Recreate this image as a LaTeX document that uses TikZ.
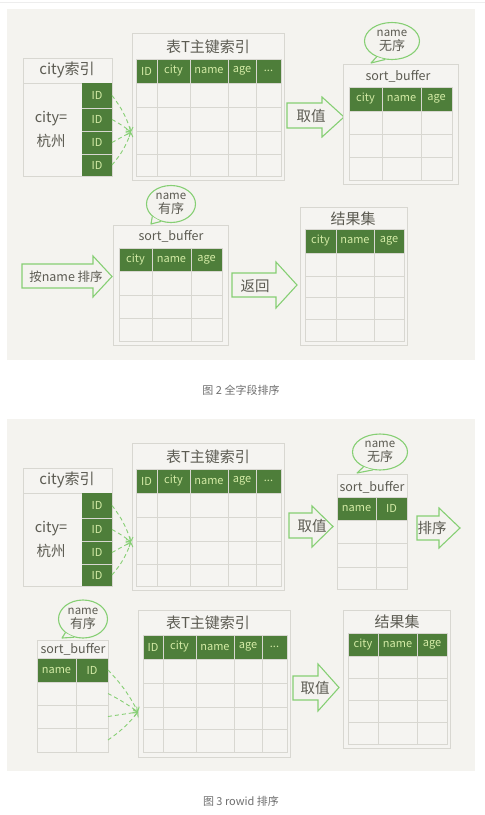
\documentclass[tikz,border=0pt]{standalone}
\usepackage{fontspec}
\setmainfont{Noto Sans CJK SC}
\usetikzlibrary{arrows.meta,shapes.geometric,calc}
\definecolor{bg}{HTML}{F4F3EF}
\definecolor{boxfill}{HTML}{F5F4F1}
\definecolor{hdr}{HTML}{4E7E3A}
\definecolor{hdrtxt}{HTML}{D4EBA6}
\definecolor{gridc}{HTML}{D8D7D1}
\definecolor{ink}{HTML}{5C5B52}
\definecolor{grn}{HTML}{86CF74}
\definecolor{capc}{HTML}{6F6F6F}
\definecolor{topline}{HTML}{EDEDED}
\tikzset{
 obox/.style={draw=gridc, line width=1pt, fill=boxfill, inner sep=0pt, outer sep=0pt},
 gl/.style={draw=gridc, line width=0.9pt},
 hcellst/.style={fill=hdr, inner sep=0pt, outer sep=0pt, text=hdrtxt, font=\fontsize{11}{12}\selectfont},
 ecellst/.style={inner sep=0pt, outer sep=0pt},
 ttl/.style={text=ink, font=\fontsize{15}{16}\selectfont, inner sep=0pt},
 sbt/.style={text=ink, font=\fontsize{12.5}{13}\selectfont, inner sep=0pt},
 bigarrow/.style={draw=grn, line width=1.1pt, fill=bg, line join=miter},
 alab/.style={text=ink, font=\fontsize{14.5}{15}\selectfont, inner sep=0pt},
 bub/.style={ellipse, draw=grn, line width=1.1pt, fill=bg, inner sep=0pt, text=ink, align=center, font=\fontsize{11.5}{14}\selectfont},
 tail/.style={draw=grn, line width=1.1pt, line join=round},
 dconn/.style={draw=grn, line width=0.9pt, dash pattern=on 4pt off 3pt, -{Straight Barb[length=3.5pt,width=7pt]}},
 captxt/.style={text=capc, font=\fontsize{11}{12}\selectfont, inner sep=0pt},
 lefttxt/.style={text=ink, font=\fontsize{14.5}{24}\selectfont, align=center, inner sep=0pt},
}
% outer box node: name, x1, y1, x2, y2
\newcommand\obx[5]{\node[obox, minimum width={(#4-#2)*1pt}, minimum height={(#5-#3)*1pt}] (#1) at ({(#2+#4)/2},{(#3+#5)/2}) {};}
% header cell node: name, x1, y1, x2, y2, text
\newcommand\hcell[6]{\node[hcellst, minimum width={(#4-#2)*1pt}, minimum height={(#5-#3)*1pt}] (#1) at ({(#2+#4)/2},{(#3+#5)/2}) {#6};}
% empty cell node
\newcommand\ecell[5]{\node[ecellst, minimum width={(#4-#2)*1pt}, minimum height={(#5-#3)*1pt}] (#1) at ({(#2+#4)/2},{(#3+#5)/2}) {};}
% grid: x1, y1, x2, y2, inner cols, inner rows
\newcommand\tgrid[6]{\draw[gl] (#1,#2) rectangle (#3,#4);
 \foreach \c in {#5} {\draw[gl] (\c,#2) -- (\c,#4);}
 \foreach \r in {#6} {\draw[gl] (#1,\r) -- (#3,\r);}}
% big hollow arrow: bx1, by1, bx2, by2, hy1, hy2, tipx
\newcommand\bigarr[7]{\draw[bigarrow] (#1,#2) -- (#3,#2) -- (#3,#5) -- (#7,{(#5+#6)/2}) -- (#3,#6) -- (#3,#4) -- (#1,#4) -- cycle;}
\newcommand\bubtxt[1]{{\fontsize{11.5}{12}\selectfont name}\\{\fontsize{13}{14}\selectfont #1}}
\begin{document}
\begin{tikzpicture}[x=1pt,y=-1pt]
\fill[white] (0,0) rectangle (485,815);
\useasboundingbox (0,0) rectangle (485,815);
\draw[topline, line width=1pt] (0,2) -- (485,2);
% panels
\fill[bg] (7,9) rectangle (475,360);
\fill[bg] (7,419) rectangle (475,771);

% ================= PANEL 1 =================
% city index
\obx{ci}{23}{58}{112}{176}
\draw[gl] (23,83) -- (112,83);
\node[ttl] (citl) at (67,70) {city索引};
\node[lefttxt] (cieq) at (51,130) {city=\\杭州};
\hcell{ci1}{82}{83}{112}{108}{ID}
\hcell{ci2}{82}{108}{112}{131}{ID}
\hcell{ci3}{82}{131}{112}{154}{ID}
\hcell{ci4}{82}{154}{112}{176}{ID}
\draw[gl] (82,108) -- (112,108) (82,131) -- (112,131) (82,154) -- (112,154);
% primary key table
\obx{pk}{132}{33}{284}{180}
\node[ttl] (pktl) at (208,47) {表T主键索引};
\hcell{pk1}{136}{59}{157}{83}{ID}
\hcell{pk2}{157}{59}{190}{83}{city}
\hcell{pk3}{190}{59}{228}{83}{name}
\hcell{pk4}{228}{59}{256}{83}{age}
\hcell{pk5}{256}{59}{281}{83}{...}
\tgrid{136}{59}{281}{176}{157,190,228,256}{83,107,131,154}
\coordinate (t1) at (131,132);
\draw[dconn] (ci1.east) to[bend left=10] (t1);
\draw[dconn] (ci2.east) to[bend left=5] (t1);
\draw[dconn] (ci3.east) to (t1);
\draw[dconn] (ci4.east) to[bend right=10] (t1);
% arrow 取值
\bigarr{287}{103}{322}{128}{97}{137}{344}
\node[alab] (a1) at (311,116) {取值};
% sort_buffer top right
\obx{sb}{343}{64}{458}{184}
\node[sbt] (sbtl) at (398,76) {sort\_buffer};
\hcell{sb1}{349}{87}{382}{111}{city}
\hcell{sb2}{382}{87}{421}{111}{name}
\hcell{sb3}{421}{87}{452}{111}{age}
\tgrid{349}{87}{452}{180}{382,421}{111,134,157}
\node[bub, minimum width=55pt, minimum height=37pt] (b1) at (392,41) {\bubtxt{无序}};
\coordinate (b1t) at (371,63);
\fill[bg] (b1.226) -- (b1t) -- (b1.250) -- cycle;
\draw[tail] (b1.226) -- (b1t) -- (b1.250);

% sort_buffer middle
\obx{sbm}{113}{225}{228}{345}
\node[sbt] (sbmtl) at (171,236) {sort\_buffer};
\hcell{sbm1}{119}{248}{152}{271}{city}
\hcell{sbm2}{152}{248}{191}{271}{name}
\hcell{sbm3}{191}{248}{222}{271}{age}
\tgrid{119}{248}{222}{341}{152,191}{271,295,318}
\node[bub, minimum width=49pt, minimum height=37pt] (b2) at (171,204) {\bubtxt{有序}};
\coordinate (b2t) at (151,224);
\fill[bg] (b2.214) -- (b2t) -- (b2.240) -- cycle;
\draw[tail] (b2.214) -- (b2t) -- (b2.240);
% arrow 按name 排序
\bigarr{22}{264}{93}{288}{256}{297}{112}
\node[alab, font=\fontsize{12.5}{13}\selectfont] (a2) at (66,277) {按name 排序};
% arrow 返回
\bigarr{232}{273}{276}{297}{262}{308}{297}
\node[alab] (a3) at (255,286) {返回};
% result set
\obx{rs}{300}{207}{407}{345}
\node[ttl] (rstl) at (353,219) {结果集};
\hcell{rs1}{305}{229}{336}{253}{city}
\hcell{rs2}{336}{229}{374}{253}{name}
\hcell{rs3}{374}{229}{404}{253}{age}
\tgrid{305}{229}{404}{341}{336,374}{253,276,297,319}
\node[captxt] (cap1) at (241,390) {图 2 全字段排序};

% ================= PANEL 2 =================
\obx{di}{23}{468}{112}{586}
\draw[gl] (23,493) -- (112,493);
\node[ttl] (ditl) at (67,480) {city索引};
\node[lefttxt] (dieq) at (51,540) {city=\\杭州};
\hcell{di1}{82}{493}{112}{518}{ID}
\hcell{di2}{82}{518}{112}{541}{ID}
\hcell{di3}{82}{541}{112}{564}{ID}
\hcell{di4}{82}{564}{112}{586}{ID}
\draw[gl] (82,518) -- (112,518) (82,541) -- (112,541) (82,564) -- (112,564);
\obx{pkb}{132}{443}{284}{590}
\node[ttl] (pkbtl) at (208,457) {表T主键索引};
\hcell{pkb1}{136}{469}{157}{493}{ID}
\hcell{pkb2}{157}{469}{190}{493}{city}
\hcell{pkb3}{190}{469}{228}{493}{name}
\hcell{pkb4}{228}{469}{256}{493}{age}
\hcell{pkb5}{256}{469}{281}{493}{...}
\tgrid{136}{469}{281}{586}{157,190,228,256}{493,517,541,564}
\coordinate (t2) at (131,542);
\draw[dconn] (di1.east) to[bend left=10] (t2);
\draw[dconn] (di2.east) to[bend left=5] (t2);
\draw[dconn] (di3.east) to (t2);
\draw[dconn] (di4.east) to[bend right=10] (t2);
\bigarr{289}{513}{312}{538}{506}{547}{333}
\node[alab] (a4) at (312,526) {取值};
\obx{sbb}{337}{474}{407}{589}
\node[sbt] (sbbtl) at (372,487) {sort\_buffer};
\hcell{sbb1}{337}{497}{376}{520}{name}
\hcell{sbb2}{376}{497}{407}{520}{ID}
\tgrid{337}{497}{407}{589}{376}{520,543,567}
\node[bub, minimum width=55pt, minimum height=36pt] (b3) at (380,452) {\bubtxt{无序}};
\coordinate (b3t) at (357,473);
\fill[bg] (b3.222) -- (b3t) -- (b3.248) -- cycle;
\draw[tail] (b3.222) -- (b3t) -- (b3.248);
\bigarr{417}{516}{439}{540}{508}{548}{460}
\node[alab] (a5) at (432,528) {排序};

% bottom left sort_buffer
\obx{sbc}{37}{640}{108}{752}
\node[sbt] (sbctl) at (73,649) {sort\_buffer};
\hcell{sbc1}{37}{658}{76}{682}{name}
\hcell{sbc2}{76}{658}{108}{682}{ID}
\ecell{sbr1}{76}{682}{108}{705}
\ecell{sbr2}{76}{705}{108}{728}
\ecell{sbr3}{76}{728}{108}{752}
\tgrid{37}{658}{108}{752}{76}{682,705,728}
\node[bub, minimum width=49pt, minimum height=38pt] (b4) at (83,619) {\bubtxt{有序}};
\coordinate (b4t) at (62,638);
\fill[bg] (b4.218) -- (b4t) -- (b4.244) -- cycle;
\draw[tail] (b4.218) -- (b4t) -- (b4.244);
\obx{pkc}{138}{610}{290}{757}
\node[ttl] (pkctl) at (208,623) {表T主键索引};
\hcell{pkc1}{143}{635}{163}{659}{ID}
\hcell{pkc2}{163}{635}{196}{659}{city}
\hcell{pkc3}{196}{635}{234}{659}{name}
\hcell{pkc4}{234}{635}{262}{659}{age}
\hcell{pkc5}{262}{635}{287}{659}{...}
\tgrid{143}{635}{287}{752}{163,196,234,262}{659,683,707,729}
\coordinate (t3) at (138,712);
\draw[dconn] (sbc2.east) to[bend left=8] (t3);
\draw[dconn] (sbr1.east) to[bend left=4] (t3);
\draw[dconn] (sbr2.east) to (t3);
\draw[dconn] (sbr3.east) to[bend right=8] (t3);
\bigarr{293}{676}{318}{700}{664}{711}{339}
\node[alab] (a6) at (315,688) {取值};
\obx{rsb}{343}{610}{450}{748}
\node[ttl] (rsbtl) at (397,622) {结果集};
\hcell{rsb1}{348}{633}{378}{656}{city}
\hcell{rsb2}{378}{633}{417}{656}{name}
\hcell{rsb3}{417}{633}{447}{656}{age}
\tgrid{348}{633}{447}{744}{378,417}{656,678,700,722}
\node[captxt] (cap2) at (241,801) {图 3 rowid 排序};
\end{tikzpicture}
\end{document}
